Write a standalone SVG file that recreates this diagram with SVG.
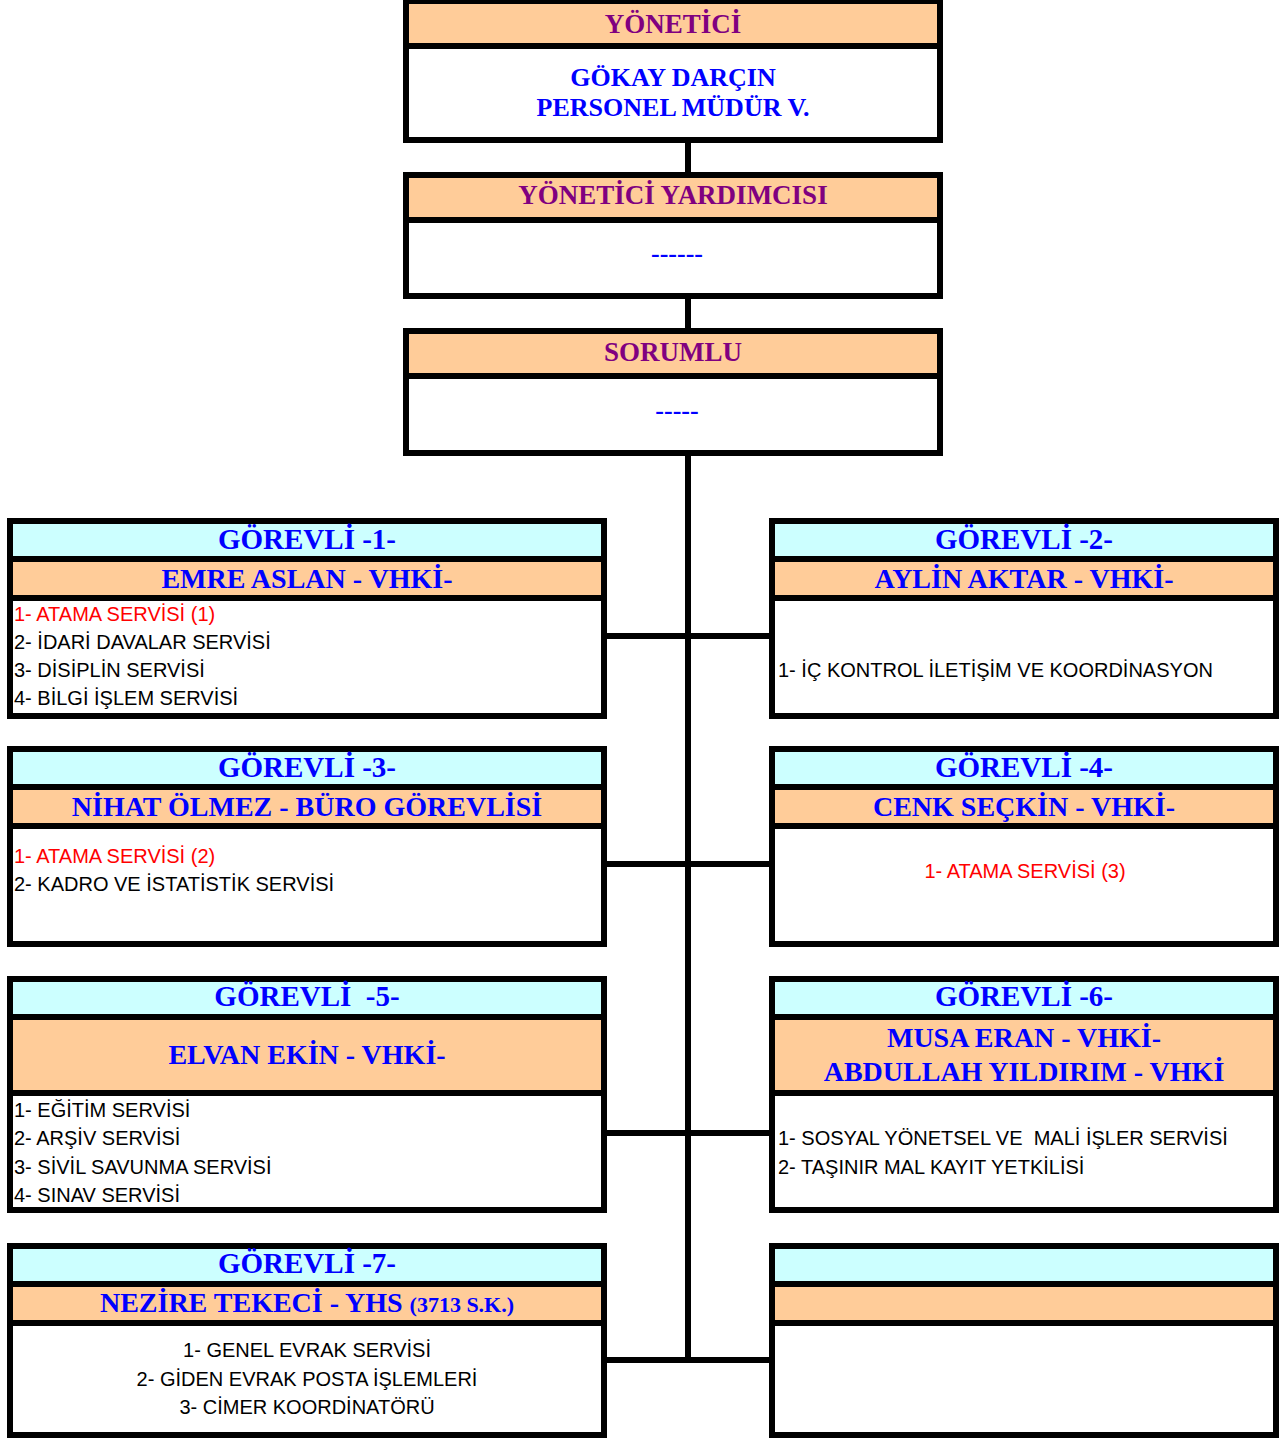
<svg xmlns="http://www.w3.org/2000/svg" width="1287" height="1439" viewBox="0 0 1287 1439">
<style>
.b{stroke:#000;stroke-width:6;}
.o{fill:#FFCC99;}
.c{fill:#CCFFFF;}
.w{fill:#FFFFFF;}
.t{font-family:"Liberation Serif","DejaVu Serif",serif;font-weight:bold;font-size:28px;fill:#0000FF;text-anchor:middle;}
.g{font-size:29px;}
.p{font-family:"Liberation Serif","DejaVu Serif",serif;font-weight:bold;font-size:27px;fill:#800080;text-anchor:middle;}
.n{font-family:"Liberation Serif","DejaVu Serif",serif;font-weight:bold;font-size:26px;fill:#0000FF;text-anchor:middle;}
.s{font-family:"Liberation Sans","DejaVu Sans",sans-serif;font-size:20px;fill:#000;}
.r{fill:#FF0000;}
.line{stroke:#000;stroke-width:6;fill:none;}
</style>
<rect width="1287" height="1439" fill="#FFFFFF"/>
<g id="connectors">
<line class="line" x1="688" y1="140" x2="688" y2="175"/>
<line class="line" x1="688" y1="296" x2="688" y2="331"/>
<line class="line" x1="688" y1="453" x2="688" y2="1363"/>
<line class="line" x1="604" y1="636" x2="772" y2="636"/>
<line class="line" x1="604" y1="864" x2="772" y2="864"/>
<line class="line" x1="604" y1="1133" x2="772" y2="1133"/>
<line class="line" x1="604" y1="1360" x2="772" y2="1360"/>
</g>
<g id="yonetici">
<rect class="b o" x="406" y="1" width="534" height="45"/>
<rect class="b w" x="406" y="46" width="534" height="94"/>
<text class="p" x="673" y="33">YÖNETİCİ</text>
<text class="n" x="673" y="86">GÖKAY DARÇIN</text>
<text class="n" x="673" y="116">PERSONEL MÜDÜR V.</text>
</g>
<g id="yardimci">
<rect class="b o" x="406" y="175" width="534" height="45"/>
<rect class="b w" x="406" y="220" width="534" height="76"/>
<text class="p" x="673" y="204">YÖNETİCİ YARDIMCISI</text>
<text class="n" x="677" y="262">------</text>
</g>
<g id="sorumlu">
<rect class="b o" x="406" y="331" width="534" height="45"/>
<rect class="b w" x="406" y="376" width="534" height="77"/>
<text class="p" x="673" y="361">SORUMLU</text>
<text class="n" x="677" y="419">-----</text>
</g>
<g id="gorevli1">
<rect class="b c" x="10" y="521" width="594" height="38"/>
<rect class="b o" x="10" y="559" width="594" height="39"/>
<rect class="b w" x="10" y="598" width="594" height="118"/>
<text class="t g" x="307" y="549">GÖREVLİ -1-</text>
<text class="t" x="307" y="588">EMRE ASLAN - VHKİ-</text>
<text class="s r" x="14" y="621">1- ATAMA SERVİSİ (1)</text>
<text class="s" x="14" y="649">2- İDARİ DAVALAR SERVİSİ</text>
<text class="s" x="14" y="677">3- DİSİPLİN SERVİSİ</text>
<text class="s" x="14" y="705">4- BİLGİ İŞLEM SERVİSİ</text>
</g>
<g id="gorevli2">
<rect class="b c" x="772" y="521" width="504" height="38"/>
<rect class="b o" x="772" y="559" width="504" height="39"/>
<rect class="b w" x="772" y="598" width="504" height="118"/>
<text class="t g" x="1024" y="549">GÖREVLİ -2-</text>
<text class="t" x="1024" y="588">AYLİN AKTAR - VHKİ-</text>
<text class="s" x="778" y="677">1- İÇ KONTROL İLETİŞİM VE KOORDİNASYON</text>
</g>
<g id="gorevli3">
<rect class="b c" x="10" y="749" width="594" height="38"/>
<rect class="b o" x="10" y="787" width="594" height="39"/>
<rect class="b w" x="10" y="826" width="594" height="118"/>
<text class="t g" x="307" y="777">GÖREVLİ -3-</text>
<text class="t" x="307" y="816">NİHAT ÖLMEZ - BÜRO GÖREVLİSİ</text>
<text class="s r" x="14" y="863">1- ATAMA SERVİSİ (2)</text>
<text class="s" x="14" y="891">2- KADRO VE İSTATİSTİK SERVİSİ</text>
</g>
<g id="gorevli4">
<rect class="b c" x="772" y="749" width="504" height="38"/>
<rect class="b o" x="772" y="787" width="504" height="39"/>
<rect class="b w" x="772" y="826" width="504" height="118"/>
<text class="t g" x="1024" y="777">GÖREVLİ -4-</text>
<text class="t" x="1024" y="816">CENK SEÇKİN - VHKİ-</text>
<text class="s r" x="1025" y="878" text-anchor="middle">1- ATAMA SERVİSİ (3)</text>
</g>
<g id="gorevli5">
<rect class="b c" x="10" y="979" width="594" height="38"/>
<rect class="b o" x="10" y="1017" width="594" height="76"/>
<rect class="b w" x="10" y="1093" width="594" height="117"/>
<text class="t g" x="307" y="1006" xml:space="preserve">GÖREVLİ  -5-</text>
<text class="t" x="307" y="1064">ELVAN EKİN - VHKİ-</text>
<text class="s" x="14" y="1117">1- EĞİTİM SERVİSİ</text>
<text class="s" x="14" y="1145">2- ARŞİV SERVİSİ</text>
<text class="s" x="14" y="1174">3- SİVİL SAVUNMA SERVİSİ</text>
<text class="s" x="14" y="1202">4- SINAV SERVİSİ</text>
</g>
<g id="gorevli6">
<rect class="b c" x="772" y="979" width="504" height="38"/>
<rect class="b o" x="772" y="1017" width="504" height="76"/>
<rect class="b w" x="772" y="1093" width="504" height="117"/>
<text class="t g" x="1024" y="1006">GÖREVLİ -6-</text>
<text class="t" x="1024" y="1047">MUSA ERAN - VHKİ-</text>
<text class="t" x="1024" y="1081">ABDULLAH YILDIRIM - VHKİ</text>
<text class="s" x="778" y="1145" xml:space="preserve">1- SOSYAL YÖNETSEL VE  MALİ İŞLER SERVİSİ</text>
<text class="s" x="778" y="1174">2- TAŞINIR MAL KAYIT YETKİLİSİ</text>
</g>
<g id="gorevli7">
<rect class="b c" x="10" y="1246" width="594" height="38"/>
<rect class="b o" x="10" y="1284" width="594" height="39"/>
<rect class="b w" x="10" y="1323" width="594" height="112"/>
<text class="t g" x="307" y="1273">GÖREVLİ -7-</text>
<text class="t" x="307" y="1312">NEZİRE TEKECİ - YHS <tspan font-size="22px">(3713 S.K.)</tspan></text>
<text class="s" x="307" y="1357" text-anchor="middle">1- GENEL EVRAK SERVİSİ</text>
<text class="s" x="307" y="1386" text-anchor="middle">2- GİDEN EVRAK POSTA İŞLEMLERİ</text>
<text class="s" x="307" y="1414" text-anchor="middle">3- CİMER KOORDİNATÖRÜ</text>
</g>
<g id="bos">
<rect class="b c" x="772" y="1246" width="504" height="38"/>
<rect class="b o" x="772" y="1284" width="504" height="39"/>
<rect class="b w" x="772" y="1323" width="504" height="112"/>
</g>
</svg>
